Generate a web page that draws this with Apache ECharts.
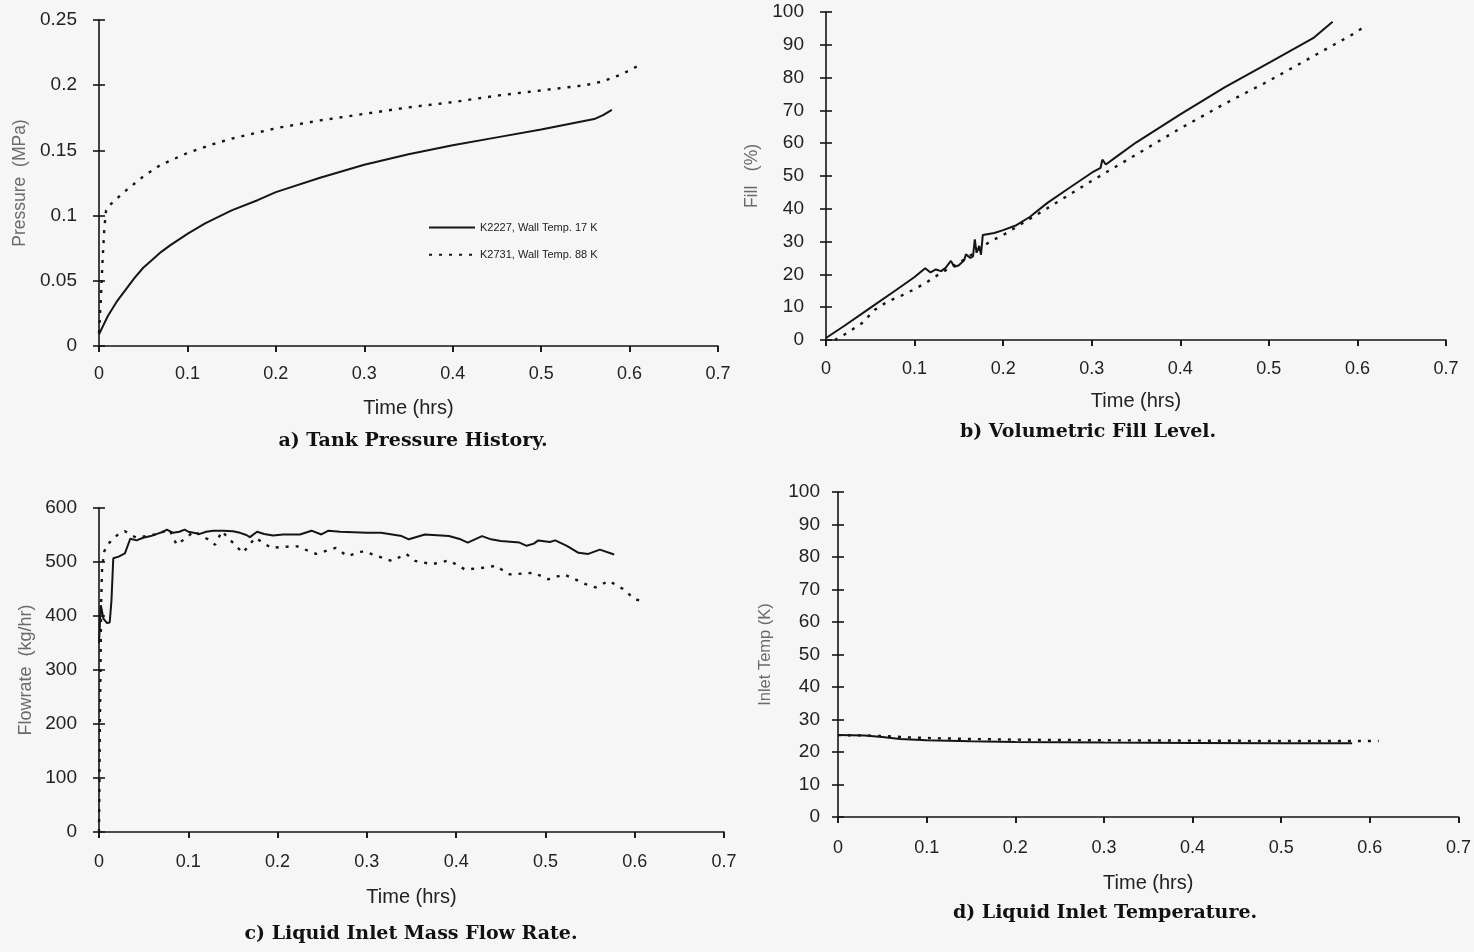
<!DOCTYPE html>
<html>
<head>
<meta charset="utf-8">
<title>Tank fill tests K2227 / K2731</title>
<script src="https://cdn.jsdelivr.net/npm/echarts@6/dist/echarts.min.js"></script>
<style>
  html, body { margin: 0; padding: 0; background: #f6f6f6; }
  #chart { width: 1474px; height: 952px; }
</style>
</head>
<body>
<div id="chart"></div>
<script>
// Series names
const NAME_17K = 'K2227, Wall Temp. 17 K';
const NAME_88K = 'K2731, Wall Temp. 88 K';

// a) Tank pressure (MPa) vs time (hrs)
const pressTime17 = [0, 0.005, 0.01, 0.02, 0.03, 0.04, 0.05, 0.06, 0.07, 0.08, 0.1, 0.12, 0.15, 0.18, 0.2, 0.25, 0.3, 0.35, 0.4, 0.45, 0.5, 0.53, 0.56, 0.57, 0.58];
const press17     = [0.009, 0.016, 0.023, 0.034, 0.043, 0.052, 0.060, 0.066, 0.072, 0.077, 0.086, 0.094, 0.104, 0.112, 0.118, 0.129, 0.139, 0.147, 0.154, 0.160, 0.166, 0.170, 0.174, 0.177, 0.181];
const pressTime88 = [0, 0.002, 0.004, 0.006, 0.008, 0.012, 0.02, 0.03, 0.05, 0.07, 0.1, 0.13, 0.15, 0.2, 0.25, 0.3, 0.35, 0.4, 0.45, 0.5, 0.55, 0.57, 0.59, 0.61];
const press88     = [0.01, 0.035, 0.065, 0.09, 0.104, 0.108, 0.113, 0.119, 0.130, 0.139, 0.148, 0.155, 0.159, 0.167, 0.173, 0.178, 0.183, 0.187, 0.192, 0.196, 0.200, 0.203, 0.208, 0.215];

// b) Volumetric fill level (%)
const fillTime17 = [0, 0.02, 0.05, 0.08, 0.1, 0.112, 0.118, 0.124, 0.13, 0.135, 0.141, 0.145, 0.15, 0.156, 0.158, 0.163, 0.166, 0.168, 0.170, 0.173, 0.175, 0.177, 0.19, 0.2, 0.215, 0.23, 0.25, 0.27, 0.3, 0.31, 0.312, 0.316, 0.33, 0.35, 0.4, 0.45, 0.5, 0.55, 0.572];
const fill17     = [0.6, 4.2, 9.8, 15.4, 19.2, 21.9, 20.6, 21.5, 21.0, 22.0, 24.1, 22.3, 22.8, 24.3, 26.1, 25.0, 25.5, 30.7, 26.6, 28.7, 26.0, 32.0, 32.6, 33.5, 35.0, 37.5, 41.8, 45.5, 51.0, 52.5, 55.0, 53.5, 56.3, 60.2, 68.8, 77.0, 84.5, 92.0, 97.0];
const fillTime88 = [0.01, 0.02, 0.04, 0.055, 0.07, 0.085, 0.1, 0.115, 0.13, 0.15, 0.17, 0.185, 0.2, 0.25, 0.3, 0.35, 0.4, 0.45, 0.5, 0.55, 0.6, 0.607];
const fill88     = [0, 1.5, 5.0, 9.2, 11.8, 13.5, 15.5, 17.8, 20.5, 23.5, 27, 30, 32, 40.2, 48.5, 56.5, 64.5, 72, 79, 86.5, 94, 95.5];

// c) Liquid inlet mass flow rate (kg/hr)
const flowTime17 = [0, 0.002, 0.005, 0.009, 0.012, 0.014, 0.016, 0.022, 0.029, 0.035, 0.042, 0.048, 0.052, 0.058, 0.065, 0.072, 0.076, 0.083, 0.09, 0.096, 0.1, 0.106, 0.113, 0.12, 0.128, 0.139, 0.15, 0.158, 0.165, 0.169, 0.177, 0.185, 0.195, 0.206, 0.225, 0.238, 0.249, 0.257, 0.27, 0.3, 0.316, 0.339, 0.347, 0.365, 0.392, 0.405, 0.413, 0.429, 0.439, 0.45, 0.471, 0.479, 0.487, 0.492, 0.505, 0.511, 0.524, 0.537, 0.548, 0.561, 0.577];
const flow17     = [350, 420, 395, 387, 388, 430, 507, 510, 516, 543, 540, 544, 546, 548, 552, 556, 560, 554, 556, 560, 556, 554, 552, 556, 558, 558, 557, 554, 550, 546, 556, 552, 549, 551, 551, 558, 551, 558, 556, 554, 554, 548, 542, 551, 548, 542, 536, 548, 542, 539, 536, 530, 534, 540, 537, 540, 530, 517, 515, 523, 514];
const flowTime88 = [0, 0.001, 0.0025, 0.0035, 0.006, 0.009, 0.014, 0.022, 0.029, 0.036, 0.042, 0.063, 0.079, 0.087, 0.098, 0.106, 0.122, 0.13, 0.1376, 0.148, 0.161, 0.175, 0.193, 0.206, 0.222, 0.243, 0.265, 0.278, 0.296, 0.312, 0.328, 0.344, 0.354, 0.373, 0.392, 0.41, 0.434, 0.444, 0.46, 0.487, 0.503, 0.521, 0.545, 0.556, 0.571, 0.587, 0.6, 0.611];
const flow88     = [0, 200, 430, 490, 520, 531, 540, 552, 557, 550, 545, 551, 560, 532, 545, 557, 542, 532, 557, 539, 517, 545, 526, 528, 529, 515, 526, 511, 520, 511, 502, 515, 502, 496, 503, 486, 490, 493, 477, 480, 468, 477, 459, 453, 465, 450, 431, 427];

// d) Liquid inlet temperature (K)
const tempTime17 = [0, 0.03, 0.05, 0.07, 0.1, 0.15, 0.2, 0.3, 0.4, 0.5, 0.58];
const temp17     = [25.2, 25.1, 24.6, 24.0, 23.6, 23.3, 23.1, 22.9, 22.8, 22.7, 22.7];
const tempTime88 = [0, 0.03, 0.06, 0.08, 0.1, 0.15, 0.2, 0.3, 0.4, 0.5, 0.61];
const temp88     = [25.2, 25.1, 24.8, 24.5, 24.3, 24.0, 23.8, 23.6, 23.5, 23.4, 23.4];

// Panel headings
const captions = [
  'a) Tank Pressure History.',
  'b) Volumetric Fill Level.',
  'c) Liquid Inlet Mass Flow Rate.',
  'd) Liquid Inlet Temperature.'
];
const xTitle = 'Time (hrs)';
const yTitles = ['Pressure  (MPa)', 'Fill   (%)', 'Flowrate  (kg/hr)', 'Inlet Temp (K)'];
const yTitleSize = [17.5, 17.5, 18, 16.5];

const zip = (xs, ys) => xs.map((x, i) => [x, ys[i]]);

const INK = '#151515';
const SANS = 'Liberation Sans, Arial, sans-serif';

// Grid boxes in pixels: left, top, width, height
const grids = [
  { left: 99,  top: 20,  width: 619, height: 326 },
  { left: 826, top: 12,  width: 620, height: 328 },
  { left: 99,  top: 508, width: 625, height: 324 },
  { left: 838, top: 492, width: 622, height: 325 }
];
const yRanges = [
  { max: 0.25, interval: 0.05, dec: 2 },
  { max: 100,  interval: 10,   dec: 0 },
  { max: 600,  interval: 100,  dec: 0 },
  { max: 100,  interval: 10,   dec: 0 }
];
const xLabelMargin = [19, 20, 21, 22];
const xNameGap = [52, 51, 55, 56];
const yLabelMargin = [22, 22, 22, 18];
const yNameGap = [70, 65, 64, 64];

const axisLineStyle = { color: INK, width: 1.6 };

const xAxis = [];
const yAxis = [];
grids.forEach((g, i) => {
  const xBase = { type: 'value', gridIndex: i, min: 0, max: 0.7, interval: 0.1, splitLine: { show: false } };
  xAxis.push(Object.assign({}, xBase, {
    axisLine: { show: true, onZero: false, lineStyle: axisLineStyle },
    axisTick: { show: true, length: 6, lineStyle: axisLineStyle },
    axisLabel: { margin: xLabelMargin[i], fontFamily: SANS, fontSize: 18, color: '#222',
                 formatter: v => String(+v.toFixed(1)) },
    name: xTitle, nameLocation: 'middle', nameGap: xNameGap[i],
    nameTextStyle: { fontFamily: SANS, fontSize: 20, color: '#222' }
  }));
  // inner half of the crossing tick marks
  xAxis.push(Object.assign({}, xBase, {
    axisLine: { show: false },
    axisTick: { show: true, inside: true, length: 6, lineStyle: axisLineStyle },
    axisLabel: { show: false }
  }));

  const r = yRanges[i];
  const yBase = { type: 'value', gridIndex: i, min: 0, max: r.max, interval: r.interval, position: 'left', splitLine: { show: false } };
  yAxis.push(Object.assign({}, yBase, {
    axisLine: { show: true, onZero: false, lineStyle: axisLineStyle },
    axisTick: { show: true, length: 6, lineStyle: axisLineStyle },
    axisLabel: { margin: yLabelMargin[i], fontFamily: SANS, fontSize: 19, color: '#222',
                 formatter: v => String(+v.toFixed(r.dec)) },
    name: yTitles[i], nameLocation: 'middle', nameRotate: 90, nameGap: yNameGap[i],
    nameTextStyle: { fontFamily: SANS, fontSize: yTitleSize[i], color: '#6a6a6a' }
  }));
  yAxis.push(Object.assign({}, yBase, {
    axisLine: { show: false },
    axisTick: { show: true, inside: true, length: 6, lineStyle: axisLineStyle },
    axisLabel: { show: false }
  }));
});

const solid = { color: INK, width: 2 };
const dotted = { color: INK, width: 2.4, type: [3, 7] };

function line(name, panel, data, style) {
  return {
    type: 'line', name, data,
    xAxisIndex: panel * 2, yAxisIndex: panel * 2,
    showSymbol: false, symbol: 'none', smooth: false,
    lineStyle: style, itemStyle: { color: INK },
    animation: false, silent: true
  };
}

const series = [
  line(NAME_17K, 0, zip(pressTime17, press17), solid),
  line(NAME_88K, 0, zip(pressTime88, press88), dotted),
  line(NAME_17K, 1, zip(fillTime17, fill17), solid),
  line(NAME_88K, 1, zip(fillTime88, fill88), dotted),
  line(NAME_17K, 2, zip(flowTime17, flow17), solid),
  line(NAME_88K, 2, zip(flowTime88, flow88), dotted),
  line(NAME_17K, 3, zip(tempTime17, temp17), solid),
  line(NAME_88K, 3, zip(tempTime88, temp88), dotted)
];

const captionPos = [[413, 441], [1088, 432], [411, 934], [1105, 913]];
const graphic = captions.map((t, i) => ({
  type: 'text', x: captionPos[i][0], y: captionPos[i][1],
  style: { text: t, fill: '#111', font: 'bold 19px "DejaVu Serif", serif',
           textAlign: 'center', textVerticalAlign: 'middle' }
}));

const chart = echarts.init(document.getElementById('chart'), null, { renderer: 'canvas' });
chart.setOption({
  backgroundColor: '#f6f6f6',
  animation: false,
  grid: grids.map(g => Object.assign({ containLabel: false }, g)),
  xAxis, yAxis, series, graphic,
  legend: {
    data: [NAME_17K, NAME_88K],
    orient: 'vertical', left: 423, top: 217,
    itemWidth: 46, itemHeight: 14, itemGap: 16,
    selectedMode: false,
    // line samples only, no marker dot
    itemStyle: { opacity: 0 },
    textStyle: { fontFamily: SANS, fontSize: 11, color: '#222' }
  }
});
</script>
</body>
</html>
